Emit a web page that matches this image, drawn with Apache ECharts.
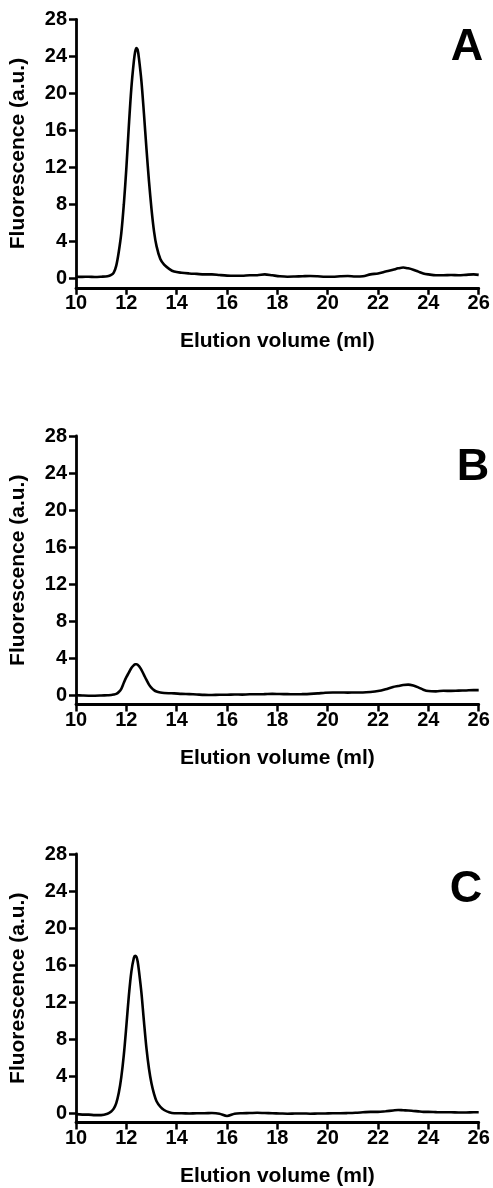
<!DOCTYPE html>
<html>
<head>
<meta charset="utf-8">
<script src="https://cdn.jsdelivr.net/npm/echarts@6/dist/echarts.min.js"></script>
<style>
html,body{margin:0;padding:0;background:#fff;}
#chart{width:493px;height:1188px;}
</style>
</head>
<body>
<div id="chart"></div>
<script>
// Elution volume (ml)
const volume = [10.0,10.25,10.5,10.75,11.0,11.25,11.4,11.5,11.6,11.7,11.8,11.9,12.0,12.1,12.2,12.3,12.35,12.4,12.45,12.5,12.6,12.7,12.8,12.9,13.0,13.1,13.2,13.35,13.5,13.7,13.9,14.2,14.5,14.8,15.1,15.4,15.7,16.0,16.3,16.6,16.9,17.2,17.5,17.8,18.1,18.4,18.7,19.0,19.3,19.6,19.9,20.2,20.5,20.8,21.1,21.4,21.7,22.0,22.3,22.6,22.8,23.0,23.2,23.4,23.6,23.8,24.0,24.3,24.6,24.9,25.2,25.5,25.8,26.0];
// Fluorescence (a.u.) panel A
const fluorA = [0.2,0.18,0.2,0.17,0.2,0.25,0.4,0.65,1.4,2.9,4.9,8.0,11.9,16.5,20.6,23.5,24.5,24.9,24.7,23.8,21.3,17.8,14.0,10.5,7.5,5.1,3.5,2.1,1.5,1.05,0.75,0.62,0.55,0.5,0.45,0.45,0.38,0.32,0.3,0.3,0.35,0.35,0.45,0.35,0.25,0.2,0.22,0.25,0.28,0.25,0.2,0.2,0.25,0.28,0.22,0.25,0.45,0.55,0.75,0.95,1.1,1.2,1.1,0.95,0.75,0.55,0.45,0.35,0.35,0.38,0.35,0.4,0.45,0.4];
// panel B
const fluorB = [0.0,-0.03,-0.05,-0.05,-0.03,0.0,0.02,0.07,0.15,0.35,0.7,1.35,1.95,2.45,2.95,3.25,3.35,3.35,3.3,3.15,2.75,2.2,1.65,1.15,0.8,0.55,0.4,0.3,0.25,0.22,0.2,0.15,0.12,0.08,0.04,0.02,0.05,0.05,0.08,0.07,0.1,0.1,0.12,0.15,0.13,0.12,0.1,0.12,0.15,0.2,0.27,0.3,0.3,0.28,0.3,0.3,0.35,0.45,0.65,0.9,1.0,1.1,1.15,1.05,0.85,0.6,0.45,0.42,0.48,0.47,0.5,0.52,0.55,0.55];
// panel C
const fluorC = [-0.1,-0.15,-0.15,-0.2,-0.2,-0.05,0.2,0.5,1.1,2.2,3.9,6.3,9.4,12.7,15.3,16.8,17.0,16.9,16.4,15.4,13.0,9.9,7.0,4.8,3.2,2.1,1.3,0.7,0.35,0.1,0.0,0.0,-0.02,0.0,0.0,0.02,-0.05,-0.3,-0.05,0.0,0.02,0.05,0.02,0.0,-0.02,-0.05,-0.03,-0.02,-0.05,-0.03,-0.02,0.0,0.0,0.02,0.05,0.1,0.15,0.15,0.22,0.3,0.35,0.32,0.3,0.25,0.2,0.15,0.15,0.12,0.1,0.1,0.08,0.08,0.1,0.1];

const yTicks = [0,4,8,12,16,20,24,28];
const panelLabels = ['A','B','C'];
const xTitle = 'Elution volume (ml)';
const yTitle = 'Fluorescence (a.u.)';

const FONT = '"Liberation Sans", Arial, sans-serif';
const series = [fluorA, fluorB, fluorC];
const tops = [19.3, 436, 854];
const labelPos = [[467, 48], [473, 468], [466, 890]];

const grids = [], xAxes = [], yAxes = [], seriesOpt = [], graphics = [];
tops.forEach((t, i) => {
  grids.push({left: 74, top: t, width: 404.7, height: 268.5, containLabel: false});
  xAxes.push({
    type: 'value', gridIndex: i, min: 10, max: 26, interval: 2,
    name: xTitle, nameLocation: 'middle', nameGap: 43,
    nameTextStyle: {fontFamily: FONT, fontWeight: 'bold', fontSize: 21, color: '#000'},
    axisLine: {show: true, onZero: false, lineStyle: {color: '#000', width: 2.8}},
    axisTick: {show: true, length: 7, lineStyle: {color: '#000', width: 2.5}},
    axisLabel: {fontFamily: FONT, fontWeight: 'bold', fontSize: 20, color: '#000', margin: 6},
    splitLine: {show: false}
  });
  yAxes.push({
    type: 'value', gridIndex: i, min: -1, max: 28,
    name: yTitle, nameLocation: 'middle', nameGap: 47,
    nameTextStyle: {fontFamily: FONT, fontWeight: 'bold', fontSize: 21, color: '#000'},
    axisLine: {show: true, onZero: false, lineStyle: {color: '#000', width: 2.8}},
    axisTick: {show: true, length: 7, customValues: yTicks, lineStyle: {color: '#000', width: 2.5}},
    axisLabel: {fontFamily: FONT, fontWeight: 'bold', fontSize: 20, color: '#000', margin: 9, customValues: yTicks},
    splitLine: {show: false}
  });
  seriesOpt.push({
    type: 'line', xAxisIndex: i, yAxisIndex: i,
    data: volume.map((v, k) => [v, series[i][k]]),
    showSymbol: false, smooth: 0.3,
    lineStyle: {color: '#000', width: 2.6},
    silent: true
  });
  graphics.push({
    type: 'text', x: labelPos[i][0], y: labelPos[i][1],
    style: {text: panelLabels[i], font: 'bold 45px ' + FONT, fill: '#000', align: 'center', verticalAlign: 'middle'}
  });
});

const chart = echarts.init(document.getElementById('chart'), null, {renderer: 'canvas'});
chart.setOption({
  animation: false,
  backgroundColor: '#fff',
  grid: grids,
  xAxis: xAxes,
  yAxis: yAxes,
  series: seriesOpt,
  graphic: graphics
});
</script>
</body>
</html>
